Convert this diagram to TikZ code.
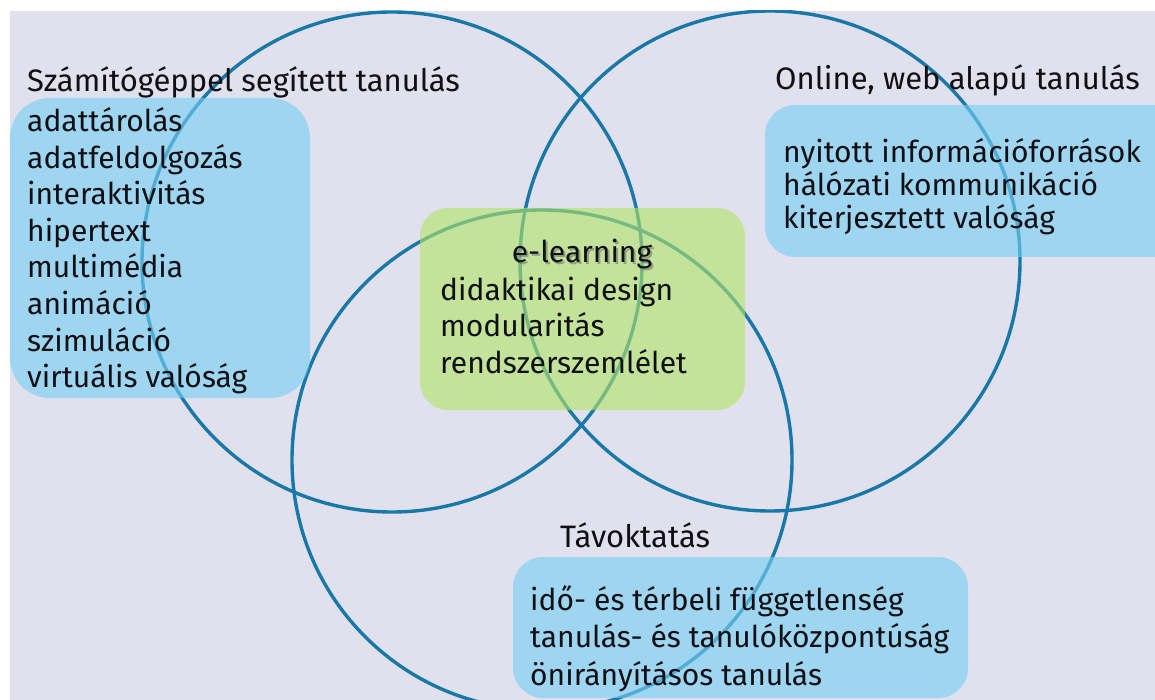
\documentclass[tikz,border=0pt]{standalone}
\usepackage{fontspec}
\setmainfont{Fira Sans}
\usetikzlibrary{calc}

\definecolor{pagebg}{RGB}{225,225,238}
\definecolor{ringblue}{RGB}{24,120,168}
\definecolor{boxblue}{RGB}{118,206,242}
\definecolor{boxgreen}{RGB}{178,228,104}
\definecolor{inktext}{RGB}{16,16,20}

\tikzset{
  ring/.style={draw=ringblue, line width=3.4pt},
  bluebox/.style={fill=boxblue, fill opacity=0.62, draw=none},
  greenbox/.style={fill=boxgreen, fill opacity=0.62, draw=none},
  label/.style={anchor=base west, inner sep=0pt, text=inktext,
    font=\fontsize{31}{36}\selectfont},
  item/.style={anchor=base west, inner sep=0pt, text=inktext,
    font=\fontsize{30}{36}\selectfont},
}

\begin{document}
\begin{tikzpicture}[x=1pt, y=-1pt]
  \useasboundingbox (0,0) rectangle (1155,700);
  \fill[white] (0,0) rectangle (1155,700);
  \fill[pagebg] (10,11) rectangle (1155,700);

  \begin{scope}
    \clip (10,11) rectangle (1155,700);

    % the three overlapping rings
    \draw[ring] (392,262) circle[radius=250pt];
    \draw[ring] (770,261) circle[radius=250pt];
    \draw[ring] (542,460) circle[radius=250pt];

    % translucent panels laid over the rings
    \fill[bluebox, rounded corners=40pt] (10,98) rectangle (310,398);
    \fill[bluebox, rounded corners=30pt] (765,105) rectangle (1200,257);
    \fill[bluebox, rounded corners=30pt] (513,557) rectangle (968,698);
    \fill[greenbox, rounded corners=28pt] (420,208) rectangle (745,410);
  \end{scope}

  % computer-aided learning
  \node[label] (cal) at (27,92) {Számítógéppel segített tanulás};
  \foreach \txt [count=\i] in {adattárolás, adatfeldolgozás, interaktivitás,
      hipertext, multimédia, animáció, szimuláció, virtuális valóság}
    \node[item] (cal\i) at (27,{132+36.5*(\i-1)}) {\txt};

  % online learning
  \node[label] (web) at (775,90) {Online, web alapú tanulás};
  \foreach \txt [count=\i] in {nyitott információforrások,
      hálózati kommunikáció, kiterjesztett valóság}
    \node[item] (web\i) at (783,{163+33*(\i-1)}) {\txt};

  % e-learning core
  \node[item, anchor=base, text=black!55, opacity=0.6] (elshadow) at (584,265) {e-learning};
  \node[item, anchor=base] (el) at (582,263) {e-learning};
  \foreach \txt [count=\i] in {didaktikai design, modularitás, rendszerszemlélet}
    \node[item] (el\i) at (440,{300+36.5*(\i-1)}) {\txt};

  % distance learning
  \node[label] (dist) at (560,547) {Távoktatás};
  \foreach \txt [count=\i] in {idő- és térbeli függetlenség,
      tanulás- és tanulóközpontúság, önirányításos tanulás}
    \node[item] (dist\i) at (530,{610+37.5*(\i-1)}) {\txt};
\end{tikzpicture}
\end{document}
